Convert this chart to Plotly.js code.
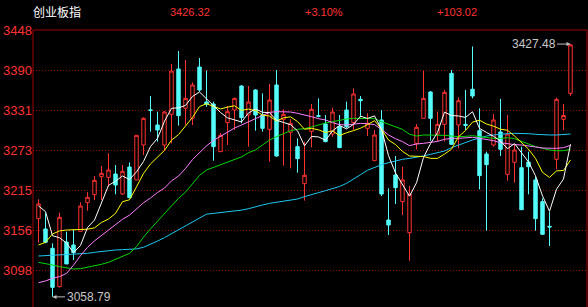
<!DOCTYPE html>
<html>
<head>
<meta charset="utf-8">
<script src="https://cdn.plot.ly/plotly-3.0.1.min.js"></script>
<style>
html,body{margin:0;padding:0;background:#000;}
#chart{width:588px;height:307px;}
</style>
</head>
<body>
<div id="chart"></div>
<script>
// ---- Data ----
const opens = [3172.9,3157.8,3129.6,3073.7,3138.8,3134.5,3154.4,3196.2,3207.9,3234.1,
3233.1,3238.0,3208.8,3248.2,3229.3,3280.3,3331.5,3309.5,3280.3,3325.0,
3391.1,3333.8,3319.2,3394.0,3343.0,3340.1,3270.6,3312.9,3331.3,3366.3,
3324.0,3360.5,3324.0,3303.1,3367.8,3317.7,3298.8,3277.9,3223.9,3300.2,
3323.1,3310.9,3296.3,3307.0,3331.3,3312.9,3346.9,3304.6,3257.4,3316.8,
3170.9,3236.5,3197.7,3152.4,3282.7,3319.2,3357.6,3296.3,3310.4,3384.8,
3309.5,3310.4,3361.5,3301.2,3267.2,3280.3,3299.3,3237.5,3255.0,3247.2,
3255.5,3229.3,3197.7,3161.7,3259.4,3317.7,3355.6];
const highs = [3201.1,3180.6,3136.9,3181.6,3153.9,3157.3,3196.7,3211.8,3235.1,3249.7,
3268.1,3251.1,3251.1,3255.0,3294.4,3320.6,3351.8,3328.9,3329.9,3398.4,
3417.4,3404.3,3371.7,3407.2,3389.0,3343.5,3298.0,3337.2,3349.3,3367.8,
3366.3,3361.5,3355.6,3369.3,3389.7,3332.3,3318.0,3290.0,3285.0,3340.1,
3348.3,3324.0,3334.7,3324.0,3343.5,3362.9,3351.8,3326.5,3302.2,3331.3,
3217.1,3264.3,3248.7,3220.5,3310.9,3388.2,3359.0,3328.9,3360.5,3389.7,
3349.8,3360.5,3424.0,3333.8,3270.6,3325.5,3347.4,3324.0,3280.3,3277.9,
3270.6,3234.1,3202.5,3183.1,3349.3,3340.1,3427.48];
const lows = [3137.9,3136.9,3058.79,3072.7,3106.8,3112.6,3154.4,3184.5,3200.0,3200.1,
3219.5,3208.4,3207.4,3202.5,3229.3,3265.7,3299.7,3285.2,3272.0,3282.7,
3308.5,3309.5,3309.5,3358.1,3336.0,3257.4,3270.0,3280.3,3302.2,3311.9,
3277.9,3301.2,3299.7,3256.0,3263.3,3250.2,3246.3,3239.9,3199.1,3276.9,
3320.6,3284.2,3292.4,3276.4,3304.6,3302.2,3320.6,3293.4,3257.4,3205.9,
3149.0,3194.3,3178.2,3111.6,3273.9,3319.2,3286.1,3285.2,3285.2,3280.3,
3275.4,3302.2,3348.3,3215.6,3155.4,3277.9,3264.3,3228.3,3225.4,3185.5,
3208.4,3155.4,3149.0,3133.0,3244.8,3302.2,3352.0];
const closes = [3194.3,3138.4,3072.7,3174.8,3106.8,3123.3,3191.3,3204.0,3228.8,3239.0,
3243.8,3221.9,3241.9,3203.5,3294.4,3319.2,3330.8,3302.2,3328.4,3388.2,
3323.1,3348.3,3367.8,3360.5,3340.0,3277.9,3294.4,3328.9,3348.3,3320.2,
3343.0,3324.0,3304.6,3345.9,3264.3,3325.0,3312.0,3260.4,3236.1,3332.3,
3322.1,3285.2,3328.4,3276.4,3307.0,3354.7,3344.9,3311.9,3294.9,3208.8,
3163.6,3218.1,3229.3,3208.8,3306.1,3348.3,3319.2,3310.4,3357.1,3281.3,
3344.9,3309.0,3351.8,3235.6,3251.6,3316.8,3274.0,3296.3,3273.0,3186.0,
3248.7,3172.9,3150.0,3160.7,3346.9,3323.3,3426.32];

const ma5 = [3191.5,3183.1,3148.0,3145.0,3137.4,3123.2,3133.8,3160.0,3170.8,3197.3,
3221.4,3227.5,3235.1,3230.0,3241.1,3256.2,3278.0,3290.0,3315.0,3333.8,
3334.5,3338.0,3351.2,3357.6,3347.5,3338.4,3327.7,3319.9,3317.4,3313.9,
3327.0,3332.9,3328.0,3327.5,3316.4,3312.8,3309.9,3301.0,3279.1,3292.7,
3292.1,3287.2,3300.8,3308.9,3303.8,3310.3,3322.3,3319.0,3322.7,3303.0,
3264.8,3239.5,3222.9,3205.7,3225.2,3262.1,3282.3,3298.6,3328.2,3323.3,
3322.6,3320.5,3328.8,3304.5,3298.6,3293.0,3286.0,3274.9,3282.3,3269.2,
3255.6,3235.4,3206.1,3183.7,3215.8,3230.8,3281.4];
const ma10 = [3134.5,3138.4,3150.5,3155.0,3156.3,3157.0,3157.3,3157.5,3159.5,3167.3,
3172.3,3180.6,3197.6,3200.4,3219.2,3238.8,3252.7,3262.6,3272.5,3287.4,
3295.4,3308.0,3320.6,3336.3,3340.6,3336.5,3332.9,3335.5,3337.5,3330.7,
3332.7,3330.3,3324.0,3322.5,3315.2,3319.9,3321.4,3314.5,3303.3,3304.5,
3302.4,3298.5,3300.9,3294.0,3298.2,3301.2,3304.8,3309.9,3315.8,3303.4,
3287.6,3280.9,3271.0,3264.2,3264.1,3263.5,3260.9,3260.8,3267.0,3274.2,
3292.4,3301.4,3313.7,3316.4,3310.9,3307.8,3303.3,3301.8,3293.4,3283.9,
3274.3,3260.7,3240.5,3233.0,3242.5,3243.2,3258.4];
const ma20 = [3079.5,3082.0,3085.9,3088.3,3093.0,3105.0,3119.0,3131.0,3140.5,3148.5,
3156.0,3165.0,3172.0,3178.0,3187.0,3196.0,3203.0,3211.0,3217.5,3228.0,
3235.0,3246.0,3259.0,3269.0,3279.0,3287.0,3293.0,3299.5,3305.0,3309.5,
3314.3,3319.2,3324.0,3327.9,3328.9,3328.9,3328.4,3326.5,3324.5,3321.6,
3318.7,3316.8,3312.9,3310.0,3309.5,3310.9,3311.9,3311.4,3310.0,3303.0,
3295.0,3289.5,3285.2,3279.3,3281.8,3282.7,3283.7,3285.6,3288.6,3290.0,
3290.0,3291.0,3291.5,3290.0,3288.6,3286.6,3283.7,3281.8,3280.8,3280.3,
3279.3,3277.4,3275.9,3275.4,3275.4,3276.4,3279.8];
const ma30 = [3109.2,3107.7,3105.3,3102.9,3100.9,3099.5,3100.0,3101.9,3104.8,3106.3,
3109.2,3113.6,3117.4,3122.3,3132.0,3146.0,3158.0,3169.5,3180.6,3192.0,
3202.5,3211.5,3223.0,3236.0,3243.8,3247.7,3251.1,3255.0,3258.4,3263.0,
3269.1,3273.0,3280.3,3287.6,3292.4,3296.3,3301.2,3303.1,3304.1,3306.5,
3309.5,3312.4,3314.3,3316.8,3318.2,3319.2,3319.2,3319.2,3318.7,3314.3,
3310.4,3307.0,3303.1,3296.0,3293.4,3294.9,3294.9,3294.4,3294.4,3293.4,
3292.4,3292.9,3293.9,3292.4,3291.0,3290.0,3290.0,3291.0,3289.5,3285.2,
3281.8,3277.9,3274.9,3273.0,3272.0,3272.0,3274.0];
const ma60 = [3118.4,3118.9,3119.4,3119.9,3120.4,3120.8,3121.3,3122.3,3123.8,3125.2,
3126.2,3127.2,3127.7,3128.1,3128.8,3131.1,3135.4,3140.2,3145.2,3150.8,
3156.5,3161.5,3167.5,3173.4,3179.4,3180.6,3181.8,3182.6,3183.4,3185.3,
3187.4,3189.6,3192.8,3195.2,3196.7,3198.1,3199.6,3201.5,3205.0,3207.4,
3210.8,3213.7,3217.1,3219.8,3224.4,3230.2,3237.0,3243.5,3248.0,3251.5,
3254.5,3257.0,3259.4,3260.8,3262.3,3264.3,3266.7,3269.1,3271.5,3276.4,
3280.3,3283.7,3287.6,3290.5,3293.4,3294.9,3296.3,3296.8,3297.3,3297.3,
3296.8,3295.9,3294.9,3294.9,3294.9,3295.4,3296.3];

const yTickVals = [3448, 3389.67, 3331.33, 3273, 3214.67, 3156.33, 3098];
const yTickText = ['3448','3390','3331','3273','3215','3156','3098'];

const header = {name:'创业板指', price:'3426.32', pct:'+3.10%', chg:'+103.02'};
const lowMark = {idx:2, value:3058.79, label:'3058.79'};
const highMark = {idx:76, value:3427.48, label:'3427.48'};

// ---- Build chart ----
const xs = closes.map((_, i) => i);
const RED = '#ff3232', CYAN = '#54fcfc';

const traces = [
  {
    type:'candlestick', x:xs, open:opens, high:highs, low:lows, close:closes,
    increasing:{line:{color:RED, width:1}, fillcolor:'#000000'},
    decreasing:{line:{color:CYAN, width:1}, fillcolor:CYAN},
    whiskerwidth:0, hoverinfo:'skip', showlegend:false
  }
];
const maDefs = [
  [ma60,'#1ec8f0'],
  [ma30,'#00d800'],
  [ma20,'#ff80ff'],
  [ma10,'#ffff00'],
  [ma5,'#ffffff']
];
maDefs.forEach(([arr,col]) => traces.push({
  type:'scatter', mode:'lines', x:xs, y:arr,
  line:{color:col, width:1}, hoverinfo:'skip', showlegend:false
}));

const headY = (307 - 12) / 277;
const hFont = (c) => ({family:'Liberation Sans, Arial, sans-serif', size:11, color:c});
const head = (px, text, font) => ({xref:'paper', yref:'paper', x:(px-33)/554, y:headY,
  xanchor:'center', yanchor:'middle', text:text, showarrow:false, font:font});

const layout = {
  width:588, height:307,
  margin:{l:33, r:1, t:30, b:0, pad:0},
  paper_bgcolor:'#000000', plot_bgcolor:'#000000',
  showlegend:false,
  boxgap:0.3,
  xaxis:{range:[-0.786, 78.357], visible:false, showgrid:false, zeroline:false,
         rangeslider:{visible:false}, fixedrange:true},
  yaxis:{range:[3044.04, 3448], tickvals:yTickVals, ticktext:yTickText,
         tickfont:{family:'Liberation Sans, Arial, sans-serif', size:13, color:RED},
         showgrid:true, gridcolor:'#8c0000', gridwidth:1, griddash:'1px,2px',
         zeroline:false, showline:false, ticks:'', fixedrange:true},
  shapes:[
    {type:'line', xref:'paper', yref:'paper', x0:0, x1:0, y0:0, y1:1, line:{color:'#a00000', width:1}},
    {type:'line', xref:'paper', yref:'paper', x0:0, x1:1, y0:1, y1:1, line:{color:'#a00000', width:1}},
    {type:'line', xref:'paper', yref:'paper', x0:1, x1:1, y0:0, y1:1, line:{color:'#a00000', width:1}}
  ],
  annotations:[
    head(57, header.name, {family:'Noto Sans CJK SC, sans-serif', size:12, color:'#ffffff'}),
    head(190, header.price, hFont(RED)),
    head(324, header.pct, hFont(RED)),
    head(456.5, header.chg, hFont(RED)),
    {xref:'x', yref:'y', x:lowMark.idx, y:lowMark.value, text:lowMark.label, showarrow:true,
     ax:36, ay:0, arrowhead:2, arrowsize:0.8, arrowwidth:1, arrowcolor:'#c0c0c0',
     font:{family:'Liberation Sans, Arial, sans-serif', size:12, color:'#c8c8c8'}},
    {xref:'x', yref:'y', x:highMark.idx, y:highMark.value, text:highMark.label, showarrow:true,
     ax:-37, ay:0, arrowhead:2, arrowsize:0.8, arrowwidth:1, arrowcolor:'#c0c0c0',
     font:{family:'Liberation Sans, Arial, sans-serif', size:12, color:'#c8c8c8'}}
  ]
};

Plotly.newPlot('chart', traces, layout, {staticPlot:true, displayModeBar:false});
</script>
</body>
</html>
